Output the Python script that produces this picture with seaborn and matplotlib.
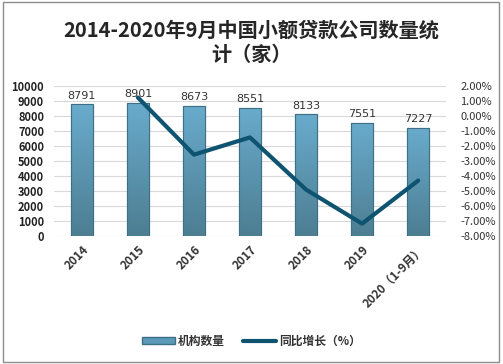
import numpy as np
import pandas as pd
import matplotlib.pyplot as plt
import seaborn as sns
from matplotlib.patches import Rectangle
from matplotlib.lines import Line2D
from matplotlib.ticker import FuncFormatter
from matplotlib.colors import LinearSegmentedColormap

sns.set_style("white")
plt.rcParams['font.family'] = ['Noto Sans CJK SC', 'DejaVu Sans']

# ===== datos =====
years = ["2014", "2015", "2016", "2017", "2018", "2019", "2020（1-9月）"]
counts = [8791, 8901, 8673, 8551, 8133, 7551, 7227]
growth = [np.nan, 1.25, -2.56, -1.41, -4.89, -7.16, -4.29]

df = pd.DataFrame({"year": years, "count": counts, "growth": growth})

fig = plt.figure(figsize=(5.03, 3.64), dpi=100)
ax = fig.add_axes([0.107, 0.351, 0.78, 0.412])

sns.barplot(data=df, x="year", y="count", ax=ax, color="#5b9ab8",
            width=0.4, edgecolor="#3f6f85", linewidth=0.8, zorder=2)

# gradiente en las barras
grad = np.linspace(0, 1, 100).reshape(-1, 1)
cmap = LinearSegmentedColormap.from_list("g", ["#4d7e92", "#69abcc"])
for p in list(ax.patches):
    x0, y0 = p.get_x(), p.get_y()
    w, h = p.get_width(), p.get_height()
    im = ax.imshow(grad, cmap=cmap, aspect="auto", origin="lower",
                   extent=[x0, x0 + w, y0, y0 + h], zorder=2.5)
    im.set_clip_path(p)
    ax.add_patch(Rectangle((x0, y0), w, h, fill=False, edgecolor="#3f6f85",
                           linewidth=0.8, zorder=3))

for i, v in enumerate(counts):
    ax.text(i, v + 250, str(v), ha="center", va="bottom", fontsize=8,
            color="#333333", family=["DejaVu Sans"])

ax.set_xlim(-0.5, 6.5)
ax.set_ylim(0, 10000)
ax.set_yticks(range(0, 10001, 1000))
ax.yaxis.grid(True, color="#d9d9d9", linewidth=0.8, zorder=0)
ax.set_axisbelow(True)
ax.set_xlabel("")
ax.set_ylabel("")
for s in ax.spines.values():
    s.set_visible(False)
ax.tick_params(axis="y", labelsize=8, length=0, pad=7, labelcolor="#222222")
ax.tick_params(axis="x", labelsize=8.5, length=0, pad=5, labelcolor="#333333")
for lbl in ax.get_yticklabels():
    lbl.set_fontweight("bold")
for lbl in ax.get_xticklabels():
    lbl.set_rotation(45)
    lbl.set_ha("right")
    lbl.set_rotation_mode("anchor")
    lbl.set_fontweight("bold")

ax2 = ax.twinx()
ax2.plot(range(len(years)), growth, color="#0e5470", linewidth=3, zorder=5)
ax2.set_ylim(-8, 2)
ax2.set_yticks(range(-8, 3))
ax2.yaxis.set_major_formatter(FuncFormatter(lambda v, p: f"{v:.2f}%"))
ax2.tick_params(axis="y", labelsize=8, length=0, pad=10, labelcolor="#333333")
for s in ax2.spines.values():
    s.set_visible(False)

fig.text(0.5, 0.918, "2014-2020年9月中国小额贷款公司数量统", ha="center",
         va="center", fontsize=14.5, fontweight="bold")
fig.text(0.5, 0.849, "计（家）", ha="center", va="center", fontsize=14.5,
         fontweight="bold")

handles = [Rectangle((0, 0), 1, 1, facecolor="#5b9ab8", edgecolor="#3f6f85"),
           Line2D([0], [0], color="#0e5470", linewidth=3)]
leg = fig.legend(handles, ["机构数量", "同比增长（%）"], loc="center",
                 bbox_to_anchor=(0.5, 0.063), ncol=2, frameon=False, fontsize=8.5,
                 handlelength=2.8, handleheight=0.6, columnspacing=1.5,
                 handletextpad=0.3)
for t in leg.get_texts():
    t.set_color("#333333")
    t.set_fontweight("bold")

fig.patches.append(Rectangle((0.006, 0.006), 0.986, 0.988, transform=fig.transFigure,
                             fill=False, edgecolor="#8c8c8c", linewidth=1))

fig.savefig("out.png", dpi=100)
